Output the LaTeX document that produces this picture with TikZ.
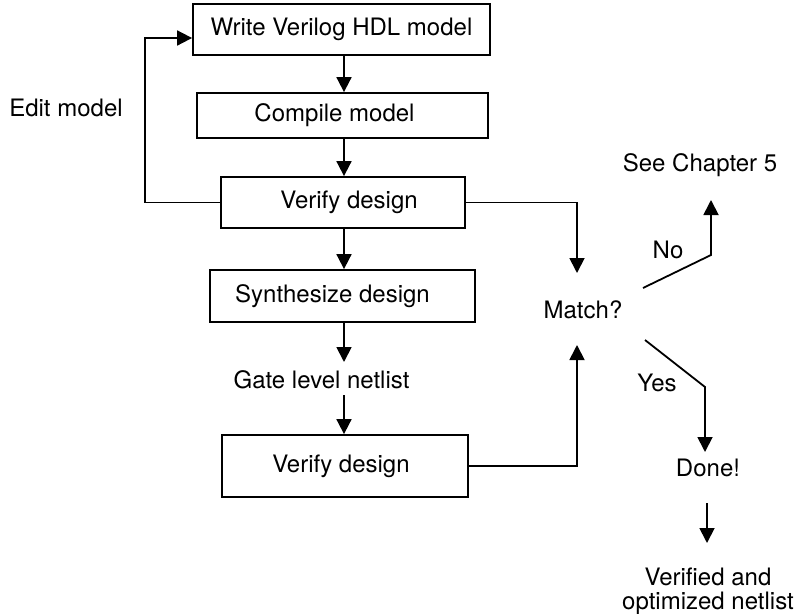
\documentclass[tikz,border=0pt]{standalone}
\usepackage{fontspec}
\setmainfont{TeX Gyre Heros}
\usetikzlibrary{arrows.meta}
\begin{document}
\begin{tikzpicture}[x=1pt,y=-1pt,
  every node/.style={font=\fontsize{24}{28}\selectfont},
  box/.style={draw,line width=1.8pt,inner sep=0pt,anchor=center},
  lbl/.style={inner sep=0pt,anchor=center},
  arr/.style={line width=1.8pt,-{Triangle[length=15pt,width=15pt]}}]
\useasboundingbox (0,0) rectangle (794,613);
% boxes
\node[box,minimum width=297pt,minimum height=51pt] (b1) at (341.5,29.5) {Write Verilog HDL model};
\node[box,minimum width=291pt,minimum height=45pt] (b2) at (342.5,115.5) {\hspace*{-16pt}Compile model};
\node[box,minimum width=244pt,minimum height=51pt] (b3) at (343,202.5) {\hspace*{12pt}Verify design};
\node[box,minimum width=265pt,minimum height=52pt] (b4) at (342.5,296) {\hspace*{-20pt}Synthesize design};
\node[box,minimum width=246pt,minimum height=62pt] (b5) at (345,466) {\hspace*{-8pt}Verify design};
% labels
\node[lbl] (gate) at (321.5,380) {Gate level netlist};
\node[lbl] (edit) at (66,108) {Edit model};
\node[lbl] (match) at (583,310) {Match?};
\node[lbl] (see) at (700,165) {See Chapter 5};
\node[lbl] (no) at (668,250) {No};
\node[lbl] (yes) at (657,383) {Yes};
\node[lbl] (done) at (708,468) {Done!};
\node[lbl] (ver1) at (708,577) {Verified and};
\node[lbl] (ver2) at (708,603) {optimized netlist};
% helper coordinates
\coordinate (col) at (344,0);
\coordinate (lp) at (145,38);
\coordinate (mtop) at (577,273);
\coordinate (mbot) at (577,345);
\coordinate (nostart) at (643,288);
\coordinate (nobend) at (711,255);
\coordinate (notip) at (711,200);
\coordinate (yesstart) at (645,340);
\coordinate (yesbend) at (705,387);
\coordinate (yestip) at (705,452);
\coordinate (dcol) at (707,0);
% connectors
\draw[arr] (b1.south -| col) -- (b2.north -| col);
\draw[arr] (b2.south -| col) -- (b3.north -| col);
\draw[arr] (b3.south -| col) -- (b4.north -| col);
\draw[arr] (b4.south -| col) -- (col |- 0,362);
\draw[arr] (col |- 0,395) -- (b5.north -| col);
\draw[arr] (b3.west) -| (lp) -- (b1.west |- lp);
\draw[arr] (b3.east) -| (mtop);
\draw[arr] (b5.east) -| (mbot);
\draw[arr] (nostart) -- (nobend) -- (notip);
\draw[arr] (yesstart) -- (yesbend) -- (yestip);
\draw[arr] (dcol |- 0,503) -- (dcol |- 0,543);
\end{tikzpicture}
\end{document}
